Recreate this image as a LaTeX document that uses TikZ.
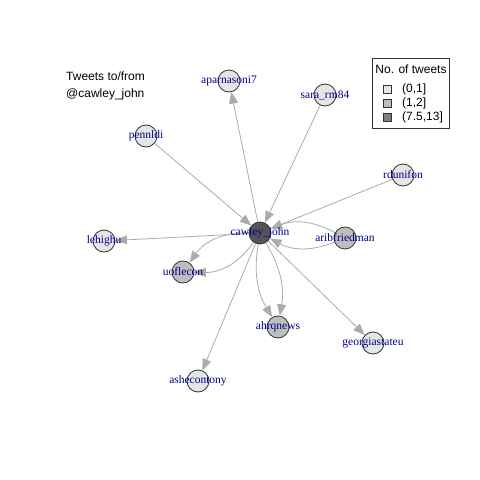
\documentclass[tikz,border=0pt]{standalone}
\usepackage{fontspec}
\setmainfont{Liberation Serif}
\setsansfont{Liberation Sans}
\usetikzlibrary{arrows.meta,backgrounds}
\definecolor{edgec}{HTML}{ABABAB}
\definecolor{lowc}{HTML}{E5E5E5}
\definecolor{midc}{HTML}{BEBEBE}
\definecolor{hic}{HTML}{555555}
\definecolor{legc}{HTML}{7F7F7F}
\definecolor{lblc}{HTML}{00008B}
\begin{document}
\begin{tikzpicture}[x=1pt,y=-1pt,
  vtx/.style={circle,draw=black!80,line width=0.8pt,minimum size=22pt,inner sep=0pt},
  lo/.style={vtx,fill=lowc},
  mid/.style={vtx,fill=midc},
  hi/.style={vtx,fill=hic},
  lbl/.style={font=\fontsize{11.5}{12}\selectfont,text=lblc,inner sep=0pt},
  edge/.style={draw=edgec,line width=0.8pt,-{Triangle[length=11.5pt,width=9pt]}},
  sans/.style={font=\sffamily\fontsize{12}{14}\selectfont,inner sep=0pt},
  legsq/.style={draw=black!80,line width=0.6pt,minimum size=8pt,inner sep=0pt}
  ]
\useasboundingbox (0,0) rectangle (480,480);

\node[hi,label={[lbl]center:cawley\_john}] (cawley) at (260,233) {};
\node[lo,label={[lbl]center:aparnasoni7}] (aparna) at (229,81) {};
\node[lo,label={[lbl]center:sara\_rm84}] (sara) at (325,95) {};
\node[lo,label={[lbl]center:pennldi}] (pennldi) at (146,136) {};
\node[lo,label={[lbl]center:rdunifon}] (rdunifon) at (403,175) {};
\node[mid,label={[lbl]center:aribfriedman}] (arib) at (345,238) {};
\node[lo,label={[lbl]center:lehighu}] (lehighu) at (104,241) {};
\node[mid,label={[lbl]center:uoflecon}] (uoflecon) at (183,272) {};
\node[mid,label={[lbl]center:ahrqnews}] (ahrq) at (278,327) {};
\node[lo,label={[lbl]center:georgiastateu}] (georgia) at (373,343) {};
\node[lo,label={[lbl]center:ashecontony}] (ashe) at (198,381) {};

\begin{scope}[on background layer]
\draw[edge] (cawley) -- (aparna);
\draw[edge] (sara) -- (cawley);
\draw[edge] (pennldi) -- (cawley);
\draw[edge] (rdunifon) -- (cawley);
\draw[edge] (arib) to[bend right=25] (cawley);
\draw[edge] (arib) to[bend left=25] (cawley);
\draw[edge] (cawley) -- (lehighu);
\draw[edge] (cawley) to[bend right=28] (uoflecon);
\draw[edge] (cawley) to[bend left=28] (uoflecon);
\draw[edge] (cawley) to[bend right=20] (ahrq);
\draw[edge] (cawley) to[bend left=20] (ahrq);
\draw[edge] (cawley) -- (georgia);
\draw[edge] (cawley) -- (ashe);
\end{scope}

\node[sans,anchor=base west] (t1) at (66,80) {Tweets to/from};
\node[sans,anchor=base west] (t2) at (66,97) {@cawley\_john};

\draw[draw=black!80,line width=0.8pt] (372,58) rectangle (449,128);
\node[sans,anchor=base] (lt) at (411,73) {No. of tweets};
\node[legsq,fill=lowc] (s1) at (387,89) {};
\node[legsq,fill=midc] (s2) at (387,103) {};
\node[legsq,fill=legc] (s3) at (387,117) {};
\node[sans,anchor=west] (l1) at (402,89) {(0,1]};
\node[sans,anchor=west] (l2) at (402,103) {(1,2]};
\node[sans,anchor=west] (l3) at (402,117) {(7.5,13]};
\end{tikzpicture}
\end{document}
